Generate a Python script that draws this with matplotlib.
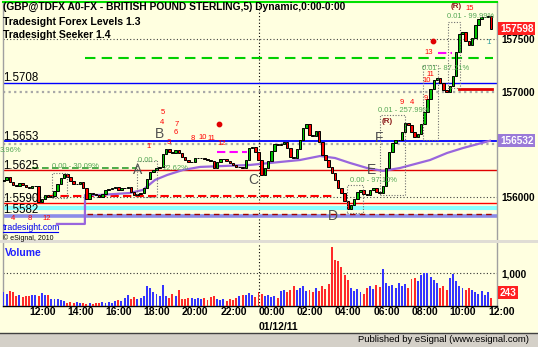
import matplotlib
matplotlib.use('Agg')
import matplotlib.pyplot as plt
from matplotlib.patches import Rectangle
from matplotlib.lines import Line2D

plt.rcParams['font.family'] = ['Liberation Sans', 'DejaVu Sans']

W, H = 538, 347

# 10-minute bars, hours counted from 12:00 on 01/11/11 (first bar 10:40)
bar_start = -4 / 3
bar_step = 1 / 6
first_open = 156150
closes = [
    156159, 156187, 156140, 156111, 156102, 156130, 156111, 156092, 156083, 156102,
    156102, 155945, 155978, 156016, 155997, 156006, 156054, 156121, 156178, 156216,
    156187, 156149, 156121, 156121, 156140, 156083, 155978, 156035, 156026, 156016,
    155997, 156026, 156064, 156073, 156083, 156092, 156064, 156083, 156083, 156092,
    156045, 156016, 156026, 156035, 156083, 156168, 156235, 156254, 156273, 156283,
    156406, 156454, 156425, 156416, 156444, 156416, 156378, 156349, 156330, 156330,
    156368, 156368, 156368, 156359, 156349, 156340, 156273, 156330, 156359, 156359,
    156340, 156321, 156302, 156283, 156283, 156273, 156349, 156463, 156473, 156425,
    156349, 156206, 156273, 156340, 156435, 156502, 156492, 156502, 156521, 156463,
    156378, 156368, 156454, 156540, 156654, 156692, 156587, 156578, 156625, 156521,
    156397, 156349, 156283, 156225, 156159, 156083, 156035, 155959, 155883, 155921,
    155978, 156045, 156064, 156026, 156016, 156064, 156083, 156045, 156035, 156102,
    156273, 156425, 156511, 156540, 156540, 156616, 156702, 156683, 156616, 156568,
    156597, 156692, 156806, 156930, 157025, 157111, 157130, 157083, 157016, 156997,
    157054, 157149, 157378, 157549, 157568, 157483, 157444, 157511, 157635, 157692,
    157711, 157711, 157721, 157598,
]
volumes = [
    420, 380, 450, 430, 300, 330, 280, 310, 300, 350,
    330, 300, 400, 350, 340, 230, 200, 220, 180, 150,
    100, 130, 90, 110, 80, 90, 70, 90, 70, 80,
    100, 120, 90, 130, 100, 150, 170, 140, 260, 350,
    230, 280, 220, 250, 300, 630, 560, 420, 360, 300,
    660, 320, 260, 380, 300, 500, 230, 200, 260, 240,
    220, 260, 200, 240, 180, 270, 300, 220, 180, 200,
    160, 220, 180, 240, 300, 350, 330, 400, 330, 280,
    420, 380, 300, 350, 280, 320, 250, 450, 500, 430,
    480, 620, 500, 560, 620, 450, 500, 420, 560, 450,
    600, 520, 680, 1830, 1420, 1380, 1200, 950, 800, 560,
    470, 520, 420, 380, 550, 600, 520, 640, 580, 1150,
    700, 620, 660, 560, 700, 620, 680, 560, 820, 870,
    760, 950, 1000, 1000, 880, 800, 700, 540, 600, 500,
    850, 970, 780, 620, 540, 480, 560, 500, 440, 380,
    450, 350, 420, 243,
]

# moving average (purple)
ma_hours = [1.46, 2.92, 2.93, 3.71, 5.28, 5.96, 6.59, 7.22, 8.05, 8.94, 11.56,
            14.17, 15.22, 16.0, 16.78, 17.67, 18.51, 19.40, 20.97, 21.86, 22.69, 24.10]
ma_values = [155740, 155740, 156016, 156016, 156035, 156064, 156159, 156206, 156254,
             156283, 156302, 156349, 156387, 156368, 156321, 156273, 156245, 156273,
             156349, 156416, 156463, 156532]

# full width level lines and their labels
level_values = [157080, 156530, 156250, 155935, 155820]
level_labels = ['1.5708', '1.5653', '1.5625', '1.5590', '1.5582']
level_colors = ['#0000ff', '#0000ff', '#e00000', '#ff0000', '#8c8ce8']
level_widths = [1.0, 1.3, 1.0, 1.0, 2.6]
cyan_level = 155895

# short segments: (start hour, end hour, price, color, style, width)
segments = [
    (0.99, 16.0, 156005, '#ff0000', (0, (4, 2)), 1.5),
    (0.16, 5.65, 156273, '#2e9e2e', (0, (4, 2)), 1.2),
    (2.93, 24.26, 157323, '#00d000', (0, (5, 3)), 1.5),
    (9.83, 11.40, 156428, '#ff00ff', (0, (4, 2)), 1.5),
    (21.40, 22.10, 157371, '#ff00ff', (0, (4, 2)), 1.5),
    (22.50, 24.20, 157023, '#e00000', '-', 2.0),
    (3.03, 24.26, 155835, '#a00000', (0, (4, 3)), 1.0),
]
grid_prices = [156000, 157500]
grey_grid_prices = [156500, 157000]

dot_hours = [9.93, 21.1]
dot_prices = [156692, 157483]

last_price = 157598
ma_last = 156532
last_volume = 243

time_ticks = list(range(0, 25, 2))
time_labels = ['12:00', '14:00', '16:00', '18:00', '20:00', '22:00', '00:00',
               '02:00', '04:00', '06:00', '08:00', '10:00', '12:00']

bg = '#ffffe0'
fig = plt.figure(figsize=(W / 100, H / 100), dpi=100, facecolor=bg)


def fx(x):
    return x / W


def fy(y):
    return 1 - y / H


def ftext(x, y, s, **kw):
    fig.text(fx(x), fy(y), s, **kw)


ax = fig.add_axes([fx(3), fy(240), fx(494), 238 / H])
vax = fig.add_axes([fx(3), fy(306), fx(494), 63 / H], sharex=ax)
for a in (ax, vax):
    a.set_facecolor(bg)
    for s in a.spines.values():
        s.set_color('#a0a0a0')
        s.set_linewidth(1)
ax.spines['top'].set_color('#00e000')
ax.spines['top'].set_linewidth(1.5)
ax.spines['bottom'].set_visible(False)
vax.spines['bottom'].set_color('black')
vax.spines['top'].set_visible(False)

ax.set_xlim(-1.36, 24.47)
ax.set_ylim(155587, 157854)
vax.set_ylim(0, 1938)

# levels
for v, c, lw in zip(level_values, level_colors, level_widths):
    ax.axhline(v, color=c, lw=lw, zorder=2)
ax.axhline(cyan_level, color='#88ffff', lw=3, zorder=1.9)
for p in grid_prices:
    ax.axhline(p, color='#404040', lw=0.8, ls=(0, (1, 2)), zorder=1.5)
for p in grey_grid_prices:
    ax.axhline(p, color='#a8a8a8', lw=1.6, ls=(0, (1, 1.5)), zorder=1.5)
for h0, h1, p, c, ls, lw in segments:
    ax.plot([h0, h1], [p, p], color=c, ls=ls, lw=lw, zorder=2.2)

ax.plot(ma_hours, ma_values, color='#9966dd', lw=1.6, zorder=2.5)

# candles
opens = [first_open] + closes[:-1]
hours = [bar_start + i * bar_step for i in range(len(closes))]
for h, o, c in zip(hours, opens, closes):
    up = c >= o
    lo, hi = min(o, c), max(o, c)
    ax.add_patch(Rectangle((h - 0.065, lo), 0.13, max(hi - lo, 4),
                           facecolor='#00c000' if up else '#ff0000',
                           edgecolor='black', lw=0.7, zorder=3))

ax.scatter(dot_hours, dot_prices, s=10, color='#e00000', zorder=4)

# volume
vcolors = ['#3434ff' if c >= o else '#ff2a2a' for o, c in zip(opens, closes)]
vax.bar(hours, volumes, width=0.1, color=vcolors, zorder=3)
vax.axhline(1000, color='#303030', lw=0.8, ls=(0, (1, 2)))

for a in (ax, vax):
    a.axvline(12, color='black', lw=0.8, ls=(0, (1, 2)), zorder=1.5)

# axes ticks
ax.tick_params(axis='x', which='both', bottom=False, labelbottom=False)
ax.yaxis.tick_right()
ax.set_yticks([156000, 157000, 157500])
ax.set_yticklabels(['156000', '157000', '157500'])
ax.tick_params(axis='y', length=0, pad=3, labelsize=7.2)
for t in ax.get_yticklabels():
    t.set_fontweight('bold')

vax.yaxis.tick_right()
vax.set_yticks([1000])
vax.set_yticklabels(['1,000'])
vax.tick_params(axis='y', length=0, pad=3, labelsize=7.2)
for t in vax.get_yticklabels():
    t.set_fontweight('bold')
vax.set_xticks(time_ticks)
vax.set_xticklabels(time_labels)
vax.tick_params(axis='x', length=0, pad=1, labelsize=7.5)
for t in vax.get_xticklabels():
    t.set_fontweight('bold')
    t.set_horizontalalignment('left')

# right value boxes
ax.text(1.006, last_price, str(last_price), transform=ax.get_yaxis_transform(),
        color='white', fontsize=7.2, fontweight='bold', va='center', ha='left',
        bbox=dict(boxstyle='square,pad=0.15', fc='#ff2020', ec='none'))
ax.text(1.006, ma_last, str(ma_last), transform=ax.get_yaxis_transform(),
        color='white', fontsize=7.2, fontweight='bold', va='center', ha='left',
        bbox=dict(boxstyle='square,pad=0.15', fc='#9a7ad8', ec='none'))
vax.text(1.006, last_volume + 170, str(last_volume), transform=vax.get_yaxis_transform(),
         color='white', fontsize=7.2, fontweight='bold', va='center', ha='left',
         bbox=dict(boxstyle='square,pad=0.15', fc='#ff2020', ec='none'))

# header text
ftext(3, 10.3, '(GBP@TDFX A0-FX - BRITISH POUND STERLING,5) Dynamic,0:00-0:00',
      fontsize=7.4, fontweight='bold')
ftext(3, 24.9, 'Tradesight Forex Levels 1.3', fontsize=7.6, fontweight='bold')
ftext(3, 37.6, 'Tradesight Seeker 1.4', fontsize=7.6, fontweight='bold')

# level labels
for lab, yb in zip(level_labels, [81, 140, 169, 202, 213]):
    ftext(3, yb, lab, fontsize=8.3)

ftext(3, 230, 'tradesight.com', fontsize=6.3, color='#0000ee')
fig.add_artist(Line2D([fx(3), fx(58)], [fy(231.5), fy(231.5)], color='#0000ee', lw=0.8))
ftext(3, 240, '\u00a9 eSignal, 2010', fontsize=5)
ftext(5, 256, 'Volume', fontsize=7.5, fontweight='bold', color='#2020ff')
ftext(259, 330, '01/12/11', fontsize=7.5, fontweight='bold')

# wave letters
for lx, ly, s in [(138, 170, 'A'), (159, 134, 'B'), (253, 180, 'C'),
                  (333, 216, 'D'), (372, 170, 'E'), (379, 138, 'F')]:
    ftext(lx, ly, s, fontsize=10, color='#505050', ha='center', va='center')

# seeker percentages
green = '#55a855'
for lx, ly, s in [(0, 150, '3.96%'), (52, 167, '0.00 - 30.09%'), (138, 161, '0.00 -'),
                  (163, 168, '22.62%'), (350, 180, '0.00 - 97.10%'),
                  (378, 110, '0.01 - 257.99%'), (422, 68, '0.01 - 87.21%'),
                  (447, 17, '0.01 - 99.99%')]:
    ftext(lx, ly, s, fontsize=5.5, color=green, va='center')

# count numbers
red = '#ff0000'
for lx, ly, s in [(13, 219, '4'), (30, 219, '8'), (47, 219, '12'),
                  (163, 113, '5'), (162, 123, '4'), (177, 125, '7'), (176, 132, '6'),
                  (149, 146, "1'"), (169, 143, '3'), (193, 139, '8'), (203, 137, '10'),
                  (211, 139, '11'), (222, 144, '12'), (402, 102, '9'), (412, 102, '4'),
                  (426, 99, '9'), (427, 81, '10'), (430, 75, '11'), (429, 53, '13'),
                  (470, 9, '15')]:
    ftext(lx, ly, s, fontsize=5.5, color=red, ha='center', va='center')
for lx, ly in [(456, 7), (387, 122)]:
    ftext(lx, ly, '(R)', fontsize=5.8, color='#8b1a1a', fontweight='bold',
          ha='center', va='center')
ftext(489, 42, '1', fontsize=5.8, color='#30a0a0', ha='center', va='center')

# seeker boxes (pixel layout)
for x0, y0, x1, y1 in [(52, 173, 67, 198), (137, 161, 157, 197), (347, 185, 363, 213),
                       (380, 115, 405, 195), (423, 65, 438, 140), (448, 22, 460, 88)]:
    fig.add_artist(Rectangle((fx(x0), fy(y1)), fx(x1 - x0), (y1 - y0) / H,
                             fill=False, ec='#707070', lw=0.8, ls=(0, (1, 1.5))))

# window chrome
fig.add_artist(Rectangle((0, fy(243)), 1, 3 / H, fc='#e0ddd5', ec='none'))
fig.add_artist(Rectangle((0, 0), 1, fy(333), fc='#d4d0c8', ec='none'))
fig.add_artist(Line2D([0, 1], [fy(333), fy(333)], color='#404040', lw=1))
ftext(529, 342.5, 'Published by eSignal (www.esignal.com)', fontsize=6.8, ha='right')

fig.savefig('out.png', dpi=100, facecolor=bg)
